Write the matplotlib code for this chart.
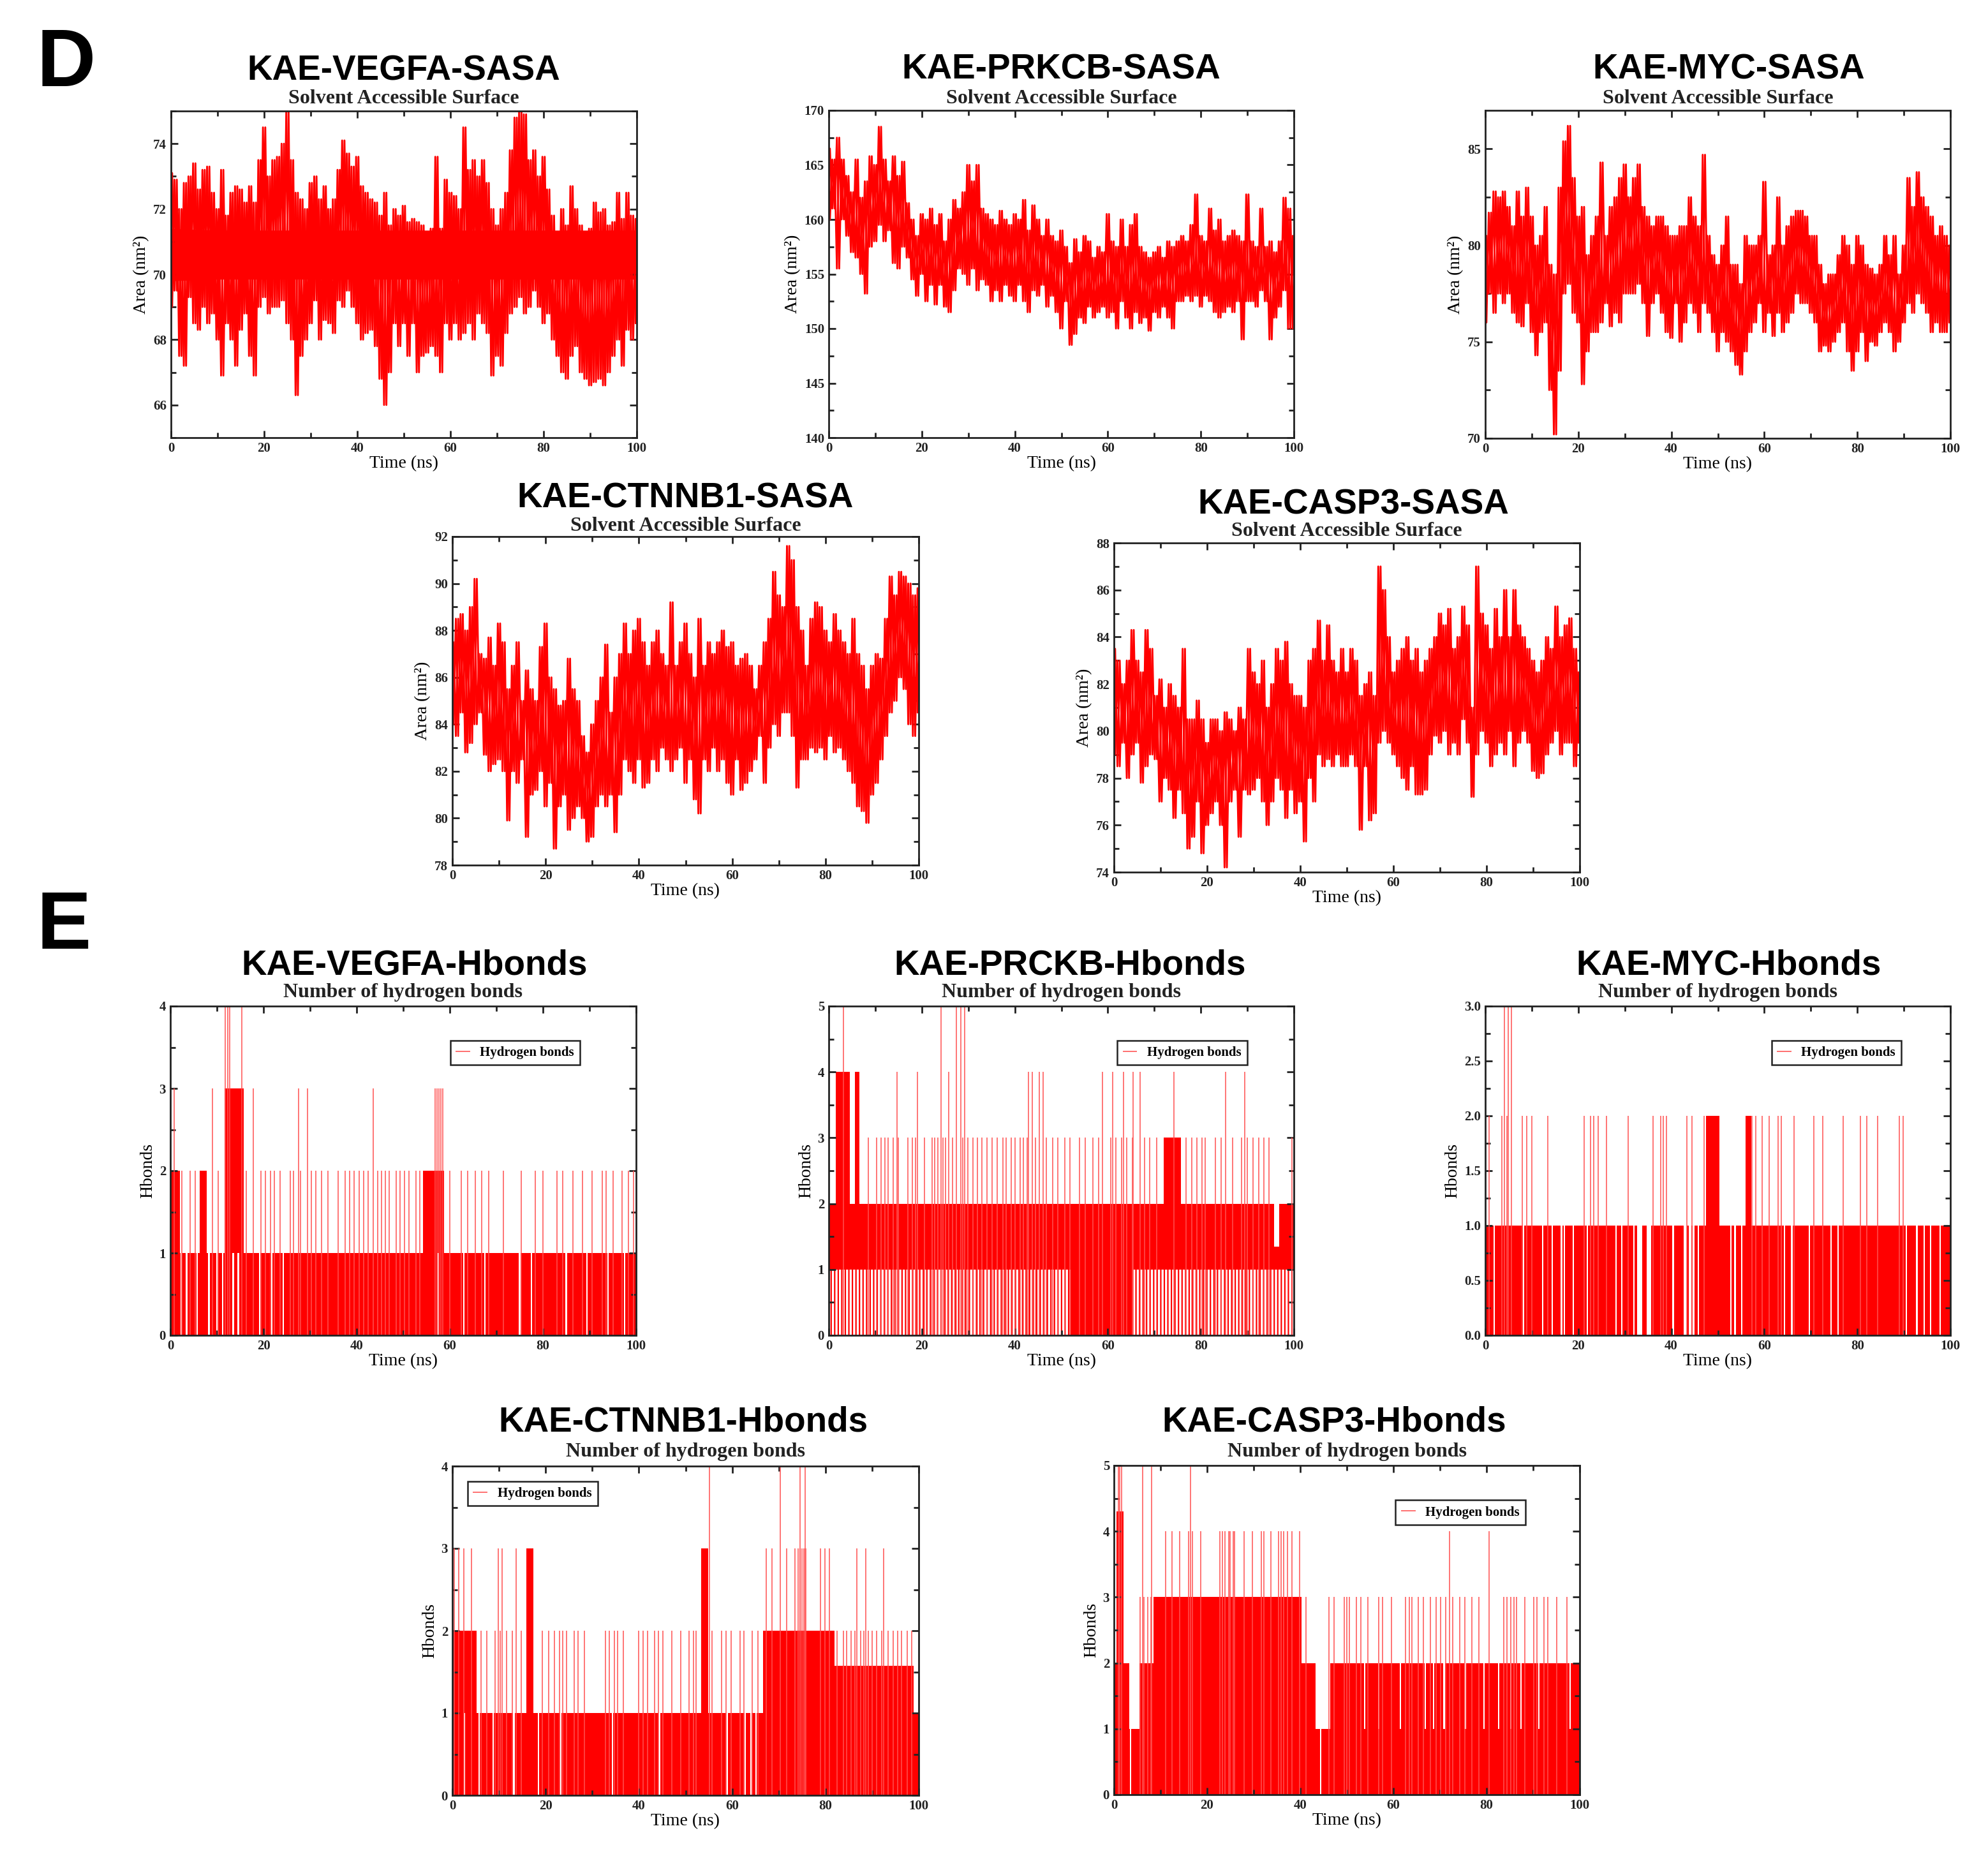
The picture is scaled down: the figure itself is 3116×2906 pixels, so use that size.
import matplotlib
matplotlib.use("Agg")
import matplotlib.pyplot as plt
from matplotlib.ticker import MultipleLocator, FormatStrFormatter
from matplotlib.lines import Line2D
import numpy as np

W, H = 3116, 2906
SANS = ["Liberation Sans", "DejaVu Sans"]
RED = "#ff0000"
SPIKE = "#ff5050"

plt.rcParams["font.family"] = ["Liberation Serif", "DejaVu Serif"]
plt.rcParams["font.weight"] = "bold"
plt.rcParams["hatch.linewidth"] = 1.6

# ---------------- SASA (nm^2), upper / lower excursion per 1 ns ----------------
vegfa_sasa_hi = [73.1, 72.9, 72.0, 72.8, 73.0, 73.4, 72.6, 73.2, 73.3, 72.5,
                 72.0, 73.2, 71.8, 72.5, 72.7, 72.6, 72.2, 72.7, 72.2, 73.5,
                 74.5, 73.0, 73.5, 73.6, 74.0, 75.0, 73.5, 72.5, 72.3, 72.0,
                 72.8, 73.0, 72.3, 72.7, 72.0, 72.3, 73.2, 74.1, 73.7, 73.3,
                 73.6, 72.7, 72.5, 72.3, 72.2, 71.8, 72.5, 71.5, 72.0, 71.8,
                 72.1, 71.6, 71.7, 71.6, 71.5, 71.3, 71.4, 73.6, 71.4, 72.9,
                 72.5, 72.4, 72.0, 74.5, 73.2, 73.5, 73.0, 73.5, 72.8, 72.0,
                 71.5, 72.0, 72.5, 73.8, 74.8, 75.0, 74.9, 73.5, 73.8, 73.0,
                 73.6, 72.6, 71.8, 71.2, 72.0, 71.5, 72.7, 72.0, 71.5, 71.3,
                 71.4, 72.2, 71.9, 72.0, 71.5, 71.6, 72.5, 71.7, 72.5, 71.8, 71.7]
vegfa_sasa_lo = [69.0, 69.5, 67.5, 67.2, 69.3, 68.5, 68.3, 69.0, 68.5, 68.8,
                 68.0, 66.9, 68.5, 68.0, 67.2, 68.3, 68.8, 67.5, 66.9, 69.0,
                 69.3, 68.8, 69.0, 69.0, 69.2, 68.5, 68.0, 66.3, 67.5, 68.0,
                 68.5, 69.2, 68.0, 68.6, 68.5, 68.2, 69.2, 69.0, 69.5, 69.0,
                 68.5, 68.0, 68.2, 68.3, 67.8, 66.8, 66.0, 67.0, 68.5, 67.8,
                 68.5, 67.5, 68.5, 67.0, 67.5, 67.6, 67.8, 67.5, 67.0, 68.5,
                 68.0, 68.5, 68.0, 68.2, 68.5, 68.0, 68.8, 68.5, 68.2, 66.9,
                 67.5, 67.2, 68.2, 68.8, 69.0, 69.3, 68.8, 69.0, 69.5, 69.0,
                 68.5, 68.8, 68.0, 67.5, 67.0, 66.8, 67.5, 67.8, 67.0, 66.8,
                 66.6, 66.7, 66.8, 66.6, 67.0, 67.5, 68.0, 67.2, 68.3, 68.0, 68.5]
# dense core band of the VEGFA trace, every 10 ns
vegfa_core_hi = [71.4, 71.35, 71.35, 71.35, 71.35, 71.35, 71.35, 71.35, 71.35, 71.35, 71.35]
vegfa_core_lo = [69.8, 69.85, 69.85, 69.85, 69.85, 69.85, 69.85, 69.85, 69.85, 69.85, 69.85]

prkcb_sasa_hi = [166.5, 165.5, 167.5, 165.5, 164.0, 162.5, 165.5, 162.0, 163.5, 165.8,
                 165.0, 168.5, 165.5, 163.5, 165.8, 164.0, 165.3, 161.5, 160.0, 158.5,
                 160.5, 160.0, 161.0, 159.5, 160.5, 158.0, 160.0, 161.8, 161.0, 162.5,
                 165.0, 163.5, 165.0, 161.0, 160.5, 160.0, 159.5, 160.8, 160.0, 159.5,
                 160.5, 160.0, 161.8, 159.0, 161.3, 160.0, 158.5, 160.0, 158.5, 158.0,
                 159.0, 157.5, 156.0, 158.2, 157.0, 158.5, 158.0, 156.5, 157.5, 157.0,
                 160.5, 158.0, 157.5, 160.0, 157.5, 159.5, 160.5, 157.5, 157.0, 156.5,
                 157.0, 157.5, 156.5, 158.0, 157.5, 158.0, 158.5, 158.0, 159.5, 162.3,
                 158.5, 158.0, 161.0, 159.0, 160.0, 158.0, 158.5, 159.0, 158.5, 158.0,
                 162.3, 158.0, 157.5, 161.0, 157.5, 158.0, 157.0, 158.0, 162.0, 161.0, 158.5]
prkcb_sasa_lo = [160.0, 161.0, 155.5, 160.0, 158.5, 157.0, 156.5, 155.0, 153.2, 157.5,
                 158.0, 159.5, 158.0, 159.0, 156.0, 155.5, 157.5, 156.5, 154.5, 153.0,
                 155.0, 152.5, 154.0, 152.2, 154.0, 152.0, 151.5, 153.5, 155.5, 155.0,
                 154.0, 155.5, 153.5, 154.5, 154.0, 152.5, 153.5, 152.5, 154.0, 153.0,
                 152.5, 154.0, 152.5, 151.5, 153.5, 153.0, 154.0, 152.0, 153.0, 151.5,
                 150.0, 152.5, 148.5, 149.5, 151.0, 150.5, 152.0, 151.0, 151.5, 152.0,
                 151.0, 151.5, 150.0, 152.5, 151.0, 150.0, 151.5, 150.5, 151.0, 149.8,
                 151.5, 151.0, 152.0, 151.0, 150.0, 152.5, 152.5, 153.0, 152.5, 153.0,
                 152.0, 153.0, 152.5, 151.5, 151.0, 151.5, 152.0, 151.5, 152.5, 149.0,
                 152.5, 152.5, 152.0, 153.5, 152.5, 149.0, 151.0, 152.0, 153.5, 150.0, 150.0]

myc_sasa_hi = [80.5, 81.7, 82.8, 82.5, 82.8, 82.0, 81.0, 82.8, 81.5, 83.0,
               81.5, 80.0, 80.5, 82.0, 79.0, 78.5, 83.0, 85.4, 86.2, 83.5,
               81.5, 82.0, 79.5, 80.5, 81.5, 84.3, 80.5, 82.0, 82.5, 83.5,
               84.2, 82.5, 83.5, 84.2, 82.0, 81.5, 81.0, 81.5, 81.5, 81.0,
               80.5, 80.5, 81.0, 81.0, 82.5, 81.5, 81.0, 84.7, 80.5, 79.5,
               79.0, 80.0, 81.5, 79.0, 79.0, 78.0, 80.5, 80.0, 80.0, 80.5,
               83.3, 79.5, 80.0, 82.5, 80.0, 81.0, 81.5, 81.8, 81.8, 81.5,
               80.5, 80.5, 79.0, 78.0, 78.5, 78.5, 79.5, 80.5, 80.0, 79.0,
               80.5, 80.0, 79.0, 78.8, 78.5, 79.0, 80.5, 79.5, 80.5, 78.5,
               80.0, 83.5, 82.0, 83.8, 82.5, 82.0, 81.5, 80.5, 81.0, 80.5, 80.0]
myc_sasa_lo = [76.0, 77.5, 76.5, 77.5, 77.0, 77.5, 76.5, 76.0, 75.8, 77.0,
               75.5, 74.3, 75.5, 76.0, 72.5, 70.2, 73.5, 77.5, 78.0, 76.5,
               76.0, 72.8, 74.5, 75.5, 75.5, 76.0, 77.0, 75.8, 76.5, 76.0,
               77.5, 77.5, 77.5, 78.0, 77.0, 75.3, 77.0, 77.5, 76.5, 75.5,
               75.2, 77.0, 75.0, 76.0, 77.0, 76.5, 75.5, 77.0, 76.5, 75.5,
               74.5, 75.5, 75.0, 74.5, 73.8, 73.3, 74.5, 75.5, 76.0, 77.0,
               75.5, 76.5, 75.3, 76.5, 75.5, 76.0, 76.5, 77.5, 77.0, 77.0,
               76.5, 76.0, 74.5, 74.8, 74.5, 75.0, 75.5, 76.0, 74.5, 73.5,
               74.5, 75.5, 74.0, 75.0, 74.8, 75.5, 76.0, 75.5, 74.5, 75.0,
               76.0, 77.0, 76.5, 77.5, 77.0, 76.5, 75.5, 76.0, 75.5, 75.5, 76.0]

ctnnb1_sasa_hi = [87.5, 88.5, 88.7, 88.0, 89.0, 90.2, 87.0, 86.8, 87.7, 86.5,
                  88.3, 87.5, 85.5, 86.5, 87.5, 85.0, 86.3, 85.5, 85.0, 87.3,
                  88.3, 86.0, 85.5, 84.8, 85.0, 86.8, 85.5, 85.0, 83.5, 82.8,
                  84.0, 85.0, 86.0, 87.4, 84.5, 86.0, 87.0, 88.3, 87.0, 88.0,
                  88.5, 87.5, 86.5, 87.5, 88.0, 87.0, 86.5, 89.2, 86.5, 87.5,
                  88.3, 87.0, 86.0, 88.5, 86.5, 87.5, 87.0, 87.5, 88.0, 87.3,
                  87.5, 86.5, 86.8, 87.0, 86.5, 85.5, 86.5, 87.5, 88.5, 90.5,
                  89.5, 89.0, 91.6, 91.0, 89.0, 88.0, 86.5, 88.5, 89.2, 89.0,
                  88.0, 87.5, 88.7, 88.0, 87.5, 87.0, 88.5, 87.0, 86.5, 85.5,
                  86.5, 87.0, 86.8, 88.5, 90.3, 89.5, 90.5, 90.3, 90.0, 89.5, 89.8]
ctnnb1_sasa_lo = [84.0, 83.5, 84.5, 82.8, 83.2, 84.0, 84.5, 82.7, 82.0, 82.3,
                  82.5, 82.0, 79.9, 82.0, 81.5, 82.5, 79.2, 81.0, 81.2, 82.0,
                  80.5, 81.5, 78.7, 80.5, 81.0, 79.5, 80.0, 80.5, 80.0, 79.0,
                  79.2, 80.5, 81.0, 80.5, 81.0, 79.4, 81.0, 82.5, 82.0, 81.5,
                  82.5, 81.3, 81.5, 82.5, 82.0, 83.0, 82.5, 82.0, 82.5, 83.0,
                  81.5, 82.5, 80.8, 80.2, 82.5, 82.0, 83.0, 82.0, 82.5, 81.5,
                  81.0, 82.5, 81.2, 81.5, 82.0, 82.5, 83.5, 81.5, 83.0, 84.0,
                  83.5, 84.5, 84.5, 83.5, 81.3, 82.5, 82.5, 83.0, 82.8, 83.0,
                  82.5, 83.5, 82.8, 83.0, 82.5, 82.0, 81.5, 80.5, 80.3, 79.8,
                  81.0, 81.5, 82.5, 83.5, 84.5, 85.0, 86.0, 85.5, 84.0, 83.5, 84.5]

casp3_sasa_hi = [83.5, 83.0, 82.0, 83.0, 84.3, 83.0, 82.5, 84.3, 83.5, 81.5,
                 82.2, 81.0, 82.0, 81.5, 81.0, 83.5, 80.5, 80.5, 81.3, 80.5,
                 79.5, 80.5, 80.5, 80.0, 80.8, 80.5, 80.0, 81.0, 80.5, 83.5,
                 82.5, 82.0, 83.0, 81.0, 82.0, 83.5, 83.0, 83.8, 82.0, 81.5,
                 81.5, 81.0, 83.0, 83.5, 84.7, 83.0, 84.5, 83.0, 82.5, 83.5,
                 82.5, 83.5, 83.0, 81.5, 82.0, 82.5, 81.5, 87.0, 86.0, 84.0,
                 82.5, 83.0, 83.5, 84.0, 83.0, 83.5, 82.5, 83.0, 83.5, 84.0,
                 85.0, 84.5, 85.2, 83.5, 84.0, 85.3, 84.5, 81.0, 87.0, 85.0,
                 84.5, 83.5, 85.2, 84.0, 86.0, 84.0, 86.0, 84.5, 84.0, 83.5,
                 83.0, 82.5, 83.0, 84.0, 83.5, 85.3, 84.0, 84.5, 84.8, 83.5, 82.5]
casp3_sasa_lo = [79.0, 78.5, 79.5, 78.0, 79.0, 79.5, 77.8, 78.5, 79.0, 78.8,
                 77.0, 78.0, 77.5, 76.3, 77.5, 76.5, 75.0, 75.5, 77.0, 74.8,
                 76.0, 76.5, 77.0, 76.0, 74.2, 77.0, 77.5, 75.5, 77.5, 77.3,
                 77.5, 78.0, 77.0, 76.0, 77.0, 78.0, 77.5, 76.3, 77.5, 76.5,
                 77.0, 75.3, 78.0, 77.0, 79.0, 78.5, 78.8, 78.5, 79.0, 78.5,
                 78.5, 79.0, 78.5, 75.8, 78.5, 76.2, 76.5, 79.5, 80.0, 79.5,
                 79.0, 78.5, 78.0, 77.5, 78.5, 77.3, 77.3, 77.5, 79.0, 79.8,
                 79.5, 80.0, 79.0, 79.5, 79.0, 80.5, 79.5, 77.2, 79.0, 80.0,
                 79.5, 78.5, 79.0, 79.5, 79.0, 80.0, 78.5, 79.5, 80.0, 79.5,
                 78.3, 78.0, 78.2, 79.0, 79.5, 80.0, 79.0, 79.5, 79.5, 78.5, 79.5]

# ---------------- Hydrogen bonds: dense band segments, spikes, gaps (ns) ----------------
vegfa_hb_edges = [0, 2.0, 6.3, 7.8, 11.7, 15.8, 54.3, 58.8, 100]
vegfa_hb_top = [2, 1, 2, 1, 3, 1, 2, 1]
vegfa_hb_base = [0, 0, 0, 0, 0, 0, 0, 0]
vegfa_hb_sp2 = [2.5, 4.3, 5.3, 10.3, 16.3, 19.5, 20.4, 21.5, 22.3, 23.5, 25.8, 26.5, 28.0,
                30.3, 31.3, 32.5, 33.8, 36.0, 37.5, 38.5, 39.5, 40.5, 41.5, 42.5, 44.5, 45.3,
                46.2, 47.0, 48.5, 49.3, 50.3, 51.3, 52.8, 53.6, 60.0, 62.5, 63.8, 65.5, 66.8,
                68.3, 71.5, 75.3, 78.3, 80.0, 83.0, 84.2, 86.5, 88.5, 90.5, 92.7, 93.5, 95.0,
                97.0, 98.3, 99.5]
vegfa_hb_sp3 = [0.8, 9.0, 17.8, 27.5, 29.5, 43.5, 56.9, 57.3, 57.7, 58.1, 58.5]
vegfa_hb_sp4 = [11.8, 12.3, 12.8, 15.3]
vegfa_hb_gap = [2.3, 3.5, 5.8, 8.3, 10.0, 11.2, 13.5, 14.6, 19.2, 21.8, 24.3, 57.5,
                63.0, 67.5, 75.0, 77.5, 85.0, 89.5, 94.0, 97.5]

prckb_hb_edges = [0, 1.5, 4.5, 5.6, 6.6, 52.0, 65.5, 72.0, 75.7, 95.8, 96.9, 100]
prckb_hb_top = [2, 4, 2, 4, 2, 2, 2, 3, 2, 1.35, 2]
prckb_hb_base = [1, 1, 1, 1, 1, 0, 1, 1, 1, 1, 1]
prckb_hb_sp3 = [8.5, 10.3, 11.2, 12.1, 12.8, 13.9, 15.0, 17.0, 18.0, 18.6, 20.6, 22.2, 22.8,
                23.4, 24.5, 25.1, 26.6, 28.8, 29.9, 31.0, 31.9, 32.9, 34.0, 35.1, 36.2, 37.4,
                38.2, 39.2, 40.1, 41.2, 41.8, 42.7, 44.4, 46.8, 48.1, 49.3, 50.7, 51.9, 53.9,
                55.2, 56.8, 58.0, 60.6, 61.7, 62.9, 64.1, 65.3, 67.9, 69.0, 70.5, 76.8, 78.1,
                79.2, 80.3, 81.0, 83.1, 84.4, 86.8, 88.7, 90.0, 91.2, 92.4, 93.5, 94.6, 99.6]
prckb_hb_sp4 = [14.7, 19.1, 25.8, 42.9, 43.7, 45.2, 46.1, 58.8, 61.0, 63.4, 65.4, 66.9,
                74.2, 85.3, 89.4]
prckb_hb_sp5 = [3.1, 24.2, 27.5, 28.4, 29.2]

myc_hb_edges = [0, 47.5, 50.3, 55.9, 57.2, 100]
myc_hb_top = [1, 2, 1, 2, 1]
myc_hb_base = [0, 0, 0, 0, 0]
myc_hb_sp2 = [0.8, 3.6, 4.6, 7.9, 8.9, 10.0, 13.5, 21.3, 22.7, 23.3, 24.3, 26.0, 30.7, 36.1,
              37.7, 38.3, 38.9, 43.4, 44.5, 47.1, 57.4, 58.2, 59.6, 61.1, 63.0, 63.6, 66.4,
              70.6, 72.6, 77.0, 80.7, 82.0, 84.4, 89.0, 89.8]
myc_hb_sp3 = [4.1, 5.0, 5.6]
myc_hb_gap = [1.9, 8.2, 12.3, 14.4, 16.4, 17.0, 18.9, 22.0, 28.1, 29.3, 32.0, 33.2, 35.2,
              40.4, 43.0, 44.0, 44.8, 45.8, 52.8, 53.7, 55.1, 64.3, 65.9, 69.7, 74.3, 75.9,
              90.5, 92.8, 94.4, 95.8, 97.8]
myc_hb_gap_w = [0.3, 0.3, 0.3, 0.3, 0.3, 0.3, 0.3, 0.3, 0.3, 0.3, 0.3, 1.2, 1.0,
                0.3, 0.6, 0.6, 0.4, 0.3, 0.3, 0.3, 0.3, 0.3, 0.3, 0.3, 0.3, 0.3,
                0.3, 0.3, 0.3, 0.3, 0.3]

ctnnb1_hb_edges = [0, 5.2, 15.9, 17.4, 53.3, 54.8, 66.6, 82.0, 98.9, 100]
ctnnb1_hb_top = [2, 1, 3, 1, 3, 1, 2, 1.57, 1]
ctnnb1_hb_base = [0, 0, 0, 0, 0, 0, 0, 0, 0]
ctnnb1_hb_sp2 = [6.2, 7.4, 9.2, 10.3, 11.6, 12.8, 14.8, 19.3, 20.6, 21.9, 23.0, 23.6, 24.5,
                 26.1, 27.0, 28.3, 32.8, 33.7, 34.7, 35.4, 36.6, 39.9, 40.9, 41.8, 43.3, 44.2,
                 45.2, 47.1, 49.0, 50.8, 51.7, 52.3, 55.7, 57.7, 58.7, 59.8, 61.7, 62.5, 64.3,
                 65.5, 82.5, 83.8, 84.6, 85.5, 86.3, 87.5, 88.2, 89.2, 90.0, 91.0, 92.0, 93.5,
                 94.5, 95.5, 96.3, 97.5, 98.5]
ctnnb1_hb_sp3 = [0.4, 1.3, 2.4, 4.1, 9.8, 10.7, 13.7, 67.3, 68.6, 71.7, 73.5, 74.2, 74.6,
                 75.0, 75.4, 75.8, 79.0, 79.9, 80.9, 86.7, 88.7, 92.5]
ctnnb1_hb_sp4 = [55.1, 70.3, 74.5, 75.6]
ctnnb1_hb_gap = [2.6, 5.8, 8.8, 13.2, 18.5, 23.3, 34.3, 44.4, 58.9, 62.8, 64.0, 65.1]

casp3_hb_edges = [0, 0.5, 2.1, 3.3, 5.5, 8.5, 40.3, 43.3, 46.5, 100]
casp3_hb_top = [2, 4.3, 2, 1, 2, 3, 2, 1, 2]
casp3_hb_base = [0, 0, 0, 0, 0, 0, 0, 0, 0]
casp3_hb_sp3 = [5.6, 6.5, 7.3, 7.9, 41.2, 46.1, 47.2, 49.5, 50.0, 50.5, 52.0, 53.0, 54.5,
                56.8, 57.7, 59.6, 62.6, 63.4, 64.0, 65.3, 66.4, 68.0, 69.2, 70.2, 71.3, 72.8,
                74.3, 75.4, 76.9, 78.4, 83.7, 84.4, 85.2, 85.9, 86.5, 88.2, 90.1, 90.8, 92.3,
                93.1, 95.0, 97.2]
casp3_hb_sp4 = [11.1, 12.5, 14.1, 16.0, 16.8, 18.6, 22.8, 23.3, 23.9, 24.7, 25.0, 25.6,
                25.9, 28.0, 29.7, 31.6, 32.2, 33.7, 35.4, 35.9, 36.5, 37.2, 38.2, 39.9,
                72.0, 80.5]
casp3_hb_sp5 = [0.9, 1.3, 1.7, 6.1, 8.1, 16.4]
casp3_hb_gap = [3.6, 44.4, 53.8, 56.8, 61.5, 66.8, 68.6, 70.9, 75.4, 79.5, 82.6, 85.2, 87.4, 91.2, 98.0]
casp3_hb_gap_lo = [0, 0, 1, 1, 1, 1, 1, 1, 1, 1, 1, 1, 1, 1, 1]
casp3_hb_gap_hi = [1, 1, 2, 2, 2, 2, 2, 2, 2, 2, 2, 2, 2, 2, 2]


fig = plt.figure(figsize=(W / 100, H / 100), dpi=100)


def add_ax(l, t, r, b):
    # axes box given in pixels of the final image
    return fig.add_axes([l / W, 1 - b / H, (r - l) / W, (b - t) / H])


def style(ax, ylim, ymaj, ymin, yfmt, ylabel):
    ax.set_xlim(0, 100)
    ax.set_ylim(*ylim)
    ax.xaxis.set_major_locator(MultipleLocator(20))
    ax.xaxis.set_minor_locator(MultipleLocator(10))
    ax.yaxis.set_major_locator(MultipleLocator(ymaj))
    ax.yaxis.set_minor_locator(MultipleLocator(ymin))
    ax.yaxis.set_major_formatter(FormatStrFormatter(yfmt))
    ax.tick_params(which="both", direction="in", top=True, right=True, width=2,
                   labelsize=15, pad=5, colors="#222222")
    ax.tick_params(which="major", length=8)
    ax.tick_params(which="minor", length=6)
    for s in ax.spines.values():
        s.set_linewidth(2)
        s.set_color("#222222")
    ax.set_xlabel("Time (ns)", fontsize=20, labelpad=1)
    ax.set_ylabel(ylabel, fontsize=20, labelpad=4)


def titles(ax, title, sub, off_t, off_s, dx=0):
    ax.annotate(title, xy=(0.5, 1), xycoords="axes fraction", xytext=(dx * 0.72, off_t * 0.72),
                textcoords="offset points", ha="center", va="center",
                fontsize=39.5, family=SANS, weight="bold", color="black")
    ax.annotate(sub, xy=(0.5, 1), xycoords="axes fraction", xytext=(0, off_s * 0.72),
                textcoords="offset points", ha="center", va="center",
                fontsize=23, weight="bold", color="#222222")


def draw_sasa(ax, hi, lo):
    # each 1 ns bin swept twice between its high and low excursion
    t = np.linspace(0, 100, len(hi))
    xs = np.column_stack([t - 0.25, t + 0.25]).ravel()
    ax.plot(xs, np.column_stack([hi, lo]).ravel(), color=RED, lw=2.1)
    ax.plot(xs, np.column_stack([lo, hi]).ravel(), color=RED, lw=2.1)


def draw_hb(ax, edges, top, base, spikes, gap_t, gap_lo, gap_hi, gap_w):
    base = np.asarray(base, float)
    if base.max() > 0:
        ax.stairs(base, edges, baseline=0, fill=True, facecolor="white",
                  edgecolor=RED, hatch="|||", lw=0)
    ax.stairs(top, edges, baseline=base, fill=True, color=RED, lw=0)
    ax.bar(gap_t, np.subtract(gap_hi, gap_lo), bottom=gap_lo, width=gap_w,
           color="white", lw=0, align="center")
    for level, ts in spikes:
        ax.vlines(ts, 0, level, color=SPIKE, lw=1.1)


def legend(ax, loc, anchor):
    leg = ax.legend(handles=[Line2D([], [], color="#ff7070", lw=1.4)], labels=["Hydrogen bonds"],
                    loc=loc, bbox_to_anchor=anchor, frameon=True, fancybox=False,
                    edgecolor="#222222", framealpha=1, fontsize=15, handlelength=1.0,
                    handletextpad=0.8, borderpad=0.45, borderaxespad=0)
    leg.get_frame().set_linewidth(1.8)


AREA = "Area (nm²)"

# ---------------- panel D: SASA ----------------
ax = add_ax(268, 174, 998, 686)
ax.fill_between(np.linspace(0, 100, len(vegfa_core_hi)), vegfa_core_lo, vegfa_core_hi, color=RED, lw=0)
draw_sasa(ax, vegfa_sasa_hi, vegfa_sasa_lo)
style(ax, (65, 75), 2, 1, "%d", AREA)
titles(ax, "KAE-VEGFA-SASA", "Solvent Accessible Surface", 63, 19)

ax = add_ax(1299, 173, 2028, 686)
draw_sasa(ax, prkcb_sasa_hi, prkcb_sasa_lo)
style(ax, (140, 170), 5, 2.5, "%d", AREA)
titles(ax, "KAE-PRKCB-SASA", "Solvent Accessible Surface", 63, 19)

ax = add_ax(2328, 173, 3057, 687)
draw_sasa(ax, myc_sasa_hi, myc_sasa_lo)
style(ax, (70, 87), 5, 2.5, "%d", AREA)
titles(ax, "KAE-MYC-SASA", "Solvent Accessible Surface", 63, 19, dx=17)

ax = add_ax(709, 841, 1440, 1356)
draw_sasa(ax, ctnnb1_sasa_hi, ctnnb1_sasa_lo)
style(ax, (78, 92), 2, 1, "%d", AREA)
titles(ax, "KAE-CTNNB1-SASA", "Solvent Accessible Surface", 59, 16)

ax = add_ax(1746, 851, 2476, 1367)
draw_sasa(ax, casp3_sasa_hi, casp3_sasa_lo)
style(ax, (74, 88), 2, 1, "%d", AREA)
titles(ax, "KAE-CASP3-SASA", "Solvent Accessible Surface", 60, 18, dx=10)

# ---------------- panel E: hydrogen bonds ----------------
SUB = "Number of hydrogen bonds"
GW = 0.3

ax = add_ax(267, 1577, 997, 2093)
draw_hb(ax, vegfa_hb_edges, vegfa_hb_top, vegfa_hb_base,
        [(2, vegfa_hb_sp2), (3, vegfa_hb_sp3), (4, vegfa_hb_sp4)],
        vegfa_hb_gap, 0, 1, GW)
style(ax, (0, 4), 1, 0.5, "%d", "Hbonds")
titles(ax, "KAE-VEGFA-Hbonds", SUB, 63, 22, dx=18)
legend(ax, "upper right", (0.88, 0.896))

ax = add_ax(1299, 1577, 2028, 2093)
draw_hb(ax, prckb_hb_edges, prckb_hb_top, prckb_hb_base,
        [(3, prckb_hb_sp3), (4, prckb_hb_sp4), (5, prckb_hb_sp5)],
        [], 0, 1, GW)
style(ax, (0, 5), 1, 0.5, "%d", "Hbonds")
titles(ax, "KAE-PRCKB-Hbonds", SUB, 63, 22, dx=14)
legend(ax, "upper right", (0.90, 0.896))

ax = add_ax(2328, 1577, 3057, 2093)
draw_hb(ax, myc_hb_edges, myc_hb_top, myc_hb_base,
        [(2, myc_hb_sp2), (3, myc_hb_sp3)],
        myc_hb_gap, 0, 1, myc_hb_gap_w)
style(ax, (0, 3), 0.5, 0.25, "%.1f", "Hbonds")
titles(ax, "KAE-MYC-Hbonds", SUB, 63, 22, dx=17)
legend(ax, "upper right", (0.895, 0.896))

ax = add_ax(709, 2298, 1440, 2814)
draw_hb(ax, ctnnb1_hb_edges, ctnnb1_hb_top, ctnnb1_hb_base,
        [(2, ctnnb1_hb_sp2), (3, ctnnb1_hb_sp3), (4, ctnnb1_hb_sp4)],
        ctnnb1_hb_gap, 0, 1, GW)
style(ax, (0, 4), 1, 0.5, "%d", "Hbonds")
titles(ax, "KAE-CTNNB1-Hbonds", SUB, 68, 23, dx=-4)
legend(ax, "upper left", (0.033, 0.954))

ax = add_ax(1746, 2297, 2476, 2813)
draw_hb(ax, casp3_hb_edges, casp3_hb_top, casp3_hb_base,
        [(3, casp3_hb_sp3), (4, casp3_hb_sp4), (5, casp3_hb_sp5)],
        casp3_hb_gap, casp3_hb_gap_lo, casp3_hb_gap_hi, GW)
style(ax, (0, 5), 1, 0.5, "%d", "Hbonds")
titles(ax, "KAE-CASP3-Hbonds", SUB, 67, 22, dx=-20)
legend(ax, "upper right", (0.884, 0.895))

# panel letters
fig.text(57 / W, 1 - 135 / H, "D", ha="left", va="baseline", fontsize=92, family=SANS, weight="bold")
fig.text(57 / W, 1 - 1487 / H, "E", ha="left", va="baseline", fontsize=92, family=SANS, weight="bold")

fig.savefig("out.png", dpi=100, facecolor="white")
